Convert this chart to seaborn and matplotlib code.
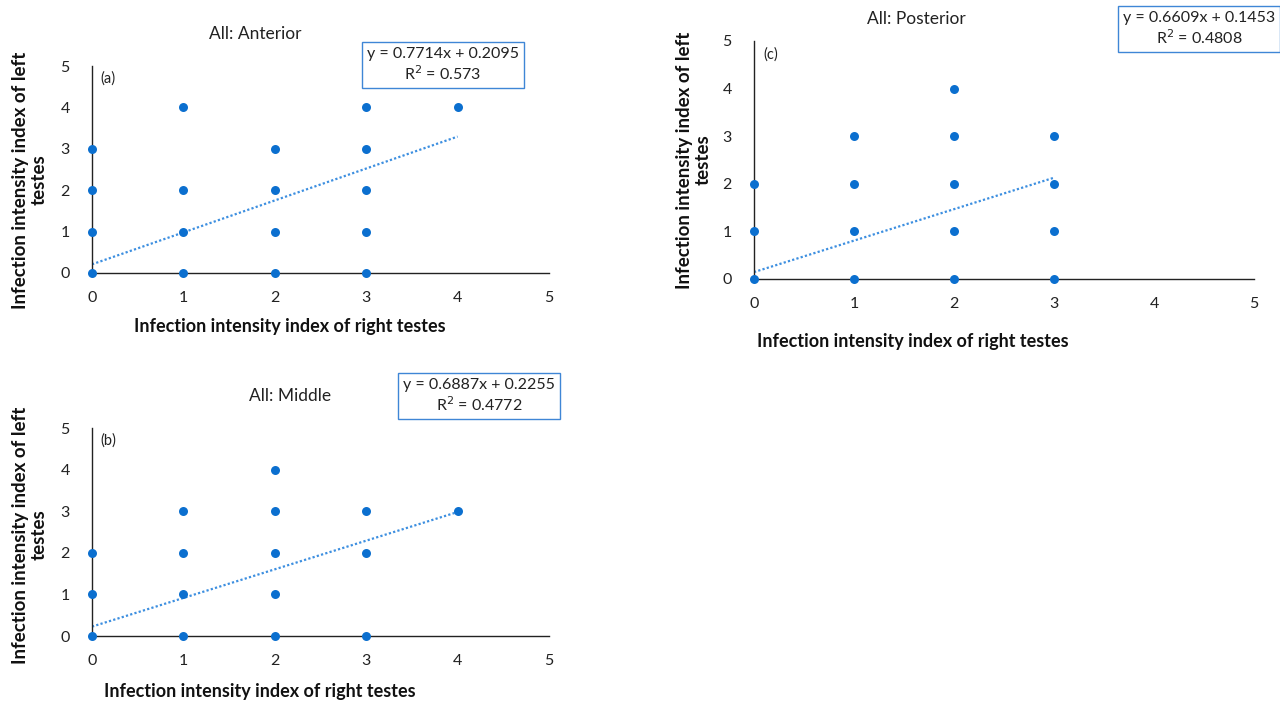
import matplotlib
matplotlib.use("Agg")
import matplotlib.pyplot as plt
import seaborn as sns
import pandas as pd

sns.set_theme(style="white")
plt.rcParams['font.family'] = ['Lato', 'DejaVu Sans']

# Distinct (right, left) score pairs per testis region
ant_right = [0, 0, 0, 0, 1, 1, 1, 1, 2, 2, 2, 2, 3, 3, 3, 3, 3, 4]
ant_left  = [0, 1, 2, 3, 0, 1, 2, 4, 0, 1, 2, 3, 0, 1, 2, 3, 4, 4]

mid_right = [0, 0, 0, 1, 1, 1, 1, 2, 2, 2, 2, 2, 3, 3, 3, 4]
mid_left  = [0, 1, 2, 0, 1, 2, 3, 0, 1, 2, 3, 4, 0, 2, 3, 3]

post_right = [0, 0, 0, 1, 1, 1, 1, 2, 2, 2, 2, 2, 3, 3, 3, 3]
post_left  = [0, 1, 2, 0, 1, 2, 3, 0, 1, 2, 3, 4, 0, 1, 2, 3]

titles = ["All: Anterior", "All: Middle", "All: Posterior"]
tags = ["(a)", "(b)", "(c)"]
slopes = [0.7714, 0.6887, 0.6609]
intercepts = [0.2095, 0.2255, 0.1453]
r2_labels = ["0.573", "0.4772", "0.4808"]
ticks = [0, 1, 2, 3, 4, 5]

W, H = 1280, 704
fig = plt.figure(figsize=(W / 100, H / 100), dpi=100)

def px_axes(x0, y0, x1, y1):
    return fig.add_axes([x0 / W, 1 - y1 / H, (x1 - x0) / W, (y1 - y0) / H])

point_color = "#0b6fcf"
line_color = "#3d8fe0"

# Per panel: axes box (px), title pos, equation box centre, x/y label positions
panels = [
    dict(box=(92, 66, 549, 273), title=(255, 34), eq=(443, 65),
         xlab=(290, 326), ylab=(30, 180), right=ant_right, left=ant_left),
    dict(box=(92, 428, 549, 636), title=(290, 396), eq=(479, 396),
         xlab=(260, 691), ylab=(30, 535), right=mid_right, left=mid_left),
    dict(box=(754, 41, 1254, 279), title=(916, 19), eq=(1199, 29),
         xlab=(913, 342), ylab=(694, 160), right=post_right, left=post_left),
]

for i, p in enumerate(panels):
    ax = px_axes(*p["box"])
    df = pd.DataFrame({"right": p["right"], "left": p["left"]})
    sns.scatterplot(data=df, x="right", y="left", ax=ax, color=point_color,
                    s=42, edgecolor=point_color, linewidth=0, zorder=3,
                    clip_on=False)
    xmin, xmax = min(p["right"]), max(p["right"])
    ax.plot([xmin, xmax],
            [slopes[i] * xmin + intercepts[i], slopes[i] * xmax + intercepts[i]],
            linestyle=(0, (1, 1)), color=line_color, linewidth=1.6, zorder=2)
    ax.set_xlim(0, 5)
    ax.set_ylim(0, 5)
    ax.set_xticks(ticks)
    ax.set_yticks(ticks)
    ax.set_xlabel("")
    ax.set_ylabel("")
    for s in ["top", "right"]:
        ax.spines[s].set_visible(False)
    for s in ["left", "bottom"]:
        ax.spines[s].set_color("#222222")
        ax.spines[s].set_linewidth(1.0)
    ax.tick_params(axis="both", length=0, labelsize=11.5, colors="#222222")
    ax.tick_params(axis="x", pad=13)
    ax.tick_params(axis="y", pad=16)
    ax.patch.set_alpha(0)
    ax.text(0.018, 0.975, tags[i], transform=ax.transAxes, fontsize=10.5,
            ha="left", va="top", color="#222222")

    tx, ty = p["title"]
    fig.text(tx / W, 1 - ty / H, titles[i], ha="center", va="center",
             fontsize=12.5, color="#222222")
    ex, ey = p["eq"]
    fig.text(ex / W, 1 - ey / H,
             f"y = {slopes[i]}x + {intercepts[i]}\nR$^2$ = {r2_labels[i]}",
             ha="center", va="center", fontsize=11.5, color="#222222",
             linespacing=1.2, multialignment="center",
             bbox=dict(boxstyle="square,pad=0.3", fc="white",
                       ec="#3f86d6", lw=1.0))
    lx, ly = p["xlab"]
    fig.text(lx / W, 1 - ly / H, "Infection intensity index of right testes",
             ha="center", va="center", fontsize=13, fontweight="bold",
             color="#111111")
    yx, yy = p["ylab"]
    fig.text(yx / W, 1 - yy / H, "Infection intensity index of left\ntestes",
             ha="center", va="center", rotation=90, fontsize=13.5,
             fontweight="bold", color="#111111", linespacing=1.1,
             multialignment="center")

fig.savefig("out.png", dpi=100)
